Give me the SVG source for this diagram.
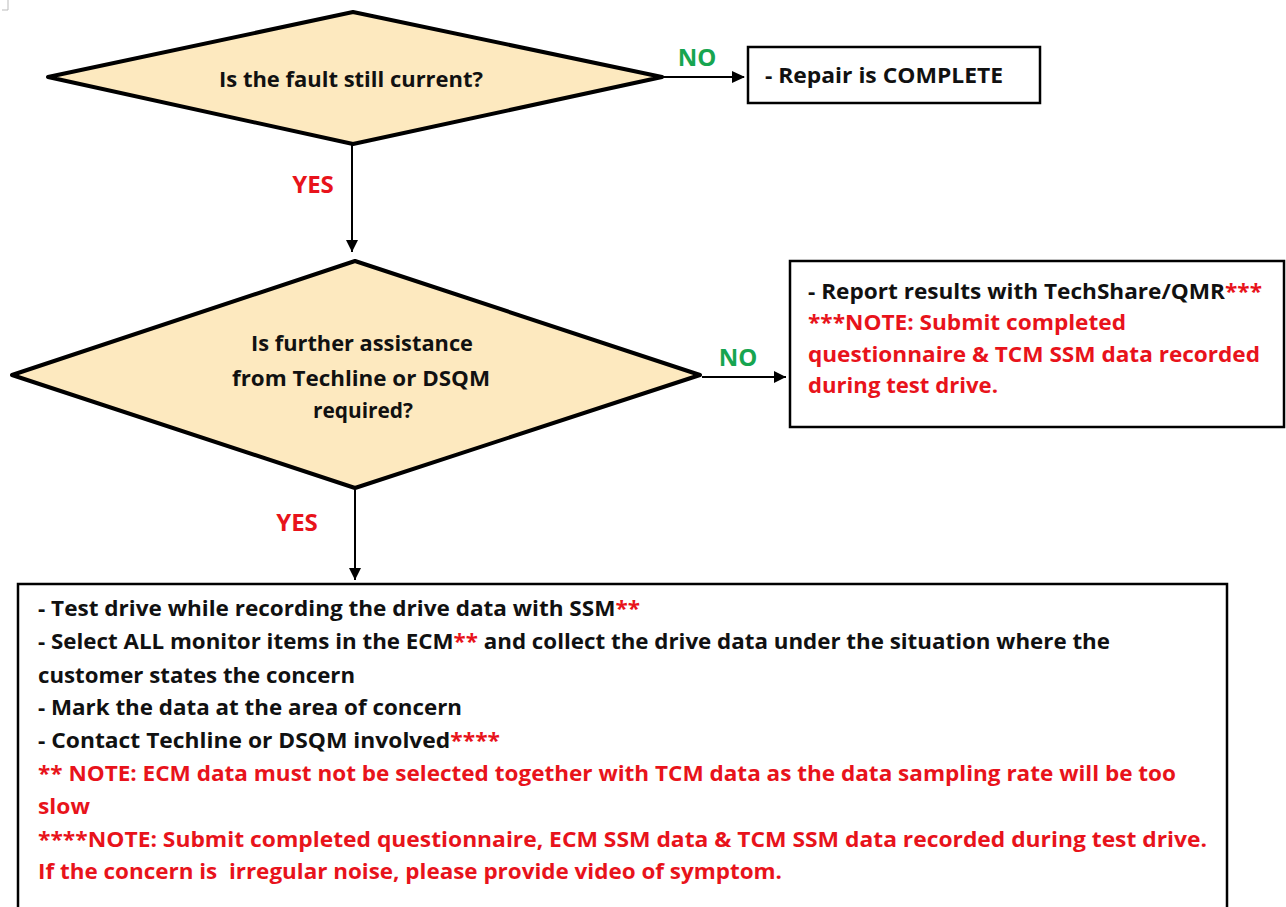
<svg xmlns="http://www.w3.org/2000/svg" width="1286" height="907" viewBox="0 0 1286 907">
<style>
.t{font-family:"Open Sans","Liberation Sans",sans-serif;font-weight:700;font-size:21px;fill:#111}
.r{fill:#e8131b}
.g{font-family:"Open Sans","Liberation Sans",sans-serif;font-weight:700;font-size:24px;fill:#17a550}
.y{font-family:"Open Sans","Liberation Sans",sans-serif;font-weight:700;font-size:24px;fill:#e8131b}
.d{fill:#fde9bf;stroke:#000;stroke-width:4;stroke-linejoin:round}
.b{fill:#fff;stroke:#000;stroke-width:2.5}
.c{stroke:#000;stroke-width:2;fill:none}
</style>
<rect width="1286" height="907" fill="#fff"/>
<path d="M2,10 L8,10 L8,0" stroke="#bbb" stroke-width="1" fill="none"/>
<g id="connectors">
<line class="c" x1="663" y1="77" x2="744" y2="77"/>
<path d="M732,71 L745,77 L732,83 Z" fill="#000"/>
<line class="c" x1="352" y1="145" x2="352" y2="252"/>
<path d="M346,240 L352,252 L358,240 Z" fill="#000"/>
<line class="c" x1="702" y1="377" x2="786" y2="377"/>
<path d="M774,371 L786,377 L774,383 Z" fill="#000"/>
<line class="c" x1="355" y1="490" x2="355" y2="580"/>
<path d="M349,568 L355,580 L361,568 Z" fill="#000"/>
<text class="g" x="697" y="66" text-anchor="middle">NO</text>
<text class="y" x="313" y="193" text-anchor="middle">YES</text>
<text class="g" x="738" y="366" text-anchor="middle">NO</text>
<text class="y" x="297" y="531" text-anchor="middle">YES</text>
</g>
<g id="n1">
<polygon class="d" points="48,77 353,12 662,77 353,144"/>
<text class="t" x="351" y="87" text-anchor="middle" textLength="264" lengthAdjust="spacingAndGlyphs">Is the fault still current?</text>
</g>
<g id="n2">
<rect class="b" x="748" y="47" width="292" height="56"/>
<text class="t" x="765" y="83" textLength="238" lengthAdjust="spacingAndGlyphs">- Repair is COMPLETE</text>
</g>
<g id="n3">
<polygon class="d" points="12,375 355,261 700,375 355,488"/>
<text class="t" x="362" y="351" text-anchor="middle" textLength="222" lengthAdjust="spacingAndGlyphs">Is further assistance</text>
<text class="t" x="361" y="386" text-anchor="middle" textLength="258" lengthAdjust="spacingAndGlyphs">from Techline or DSQM</text>
<text class="t" x="363" y="418" text-anchor="middle" textLength="100" lengthAdjust="spacingAndGlyphs">required?</text>
</g>
<g id="n4">
<rect class="b" x="790" y="261" width="494" height="166"/>
<text class="t" x="808" y="299" textLength="454" lengthAdjust="spacingAndGlyphs">- Report results with TechShare/QMR<tspan class="r">***</tspan></text>
<text class="t r" x="808" y="330" textLength="318" lengthAdjust="spacingAndGlyphs">***NOTE: Submit completed</text>
<text class="t r" x="808" y="362" textLength="452" lengthAdjust="spacingAndGlyphs">questionnaire &amp; TCM SSM data recorded</text>
<text class="t r" x="808" y="393" textLength="190" lengthAdjust="spacingAndGlyphs">during test drive.</text>
</g>
<g id="n5">
<rect class="b" x="18" y="584" width="1209" height="340"/>
<text class="t" x="38" y="616" textLength="602" lengthAdjust="spacingAndGlyphs">- Test drive while recording the drive data with SSM<tspan class="r">**</tspan></text>
<text class="t" x="38" y="649" textLength="1072" lengthAdjust="spacingAndGlyphs">- Select ALL monitor items in the ECM<tspan class="r">**</tspan> and collect the drive data under the situation where the</text>
<text class="t" x="38" y="683" textLength="317" lengthAdjust="spacingAndGlyphs">customer states the concern</text>
<text class="t" x="38" y="715" textLength="424" lengthAdjust="spacingAndGlyphs">- Mark the data at the area of concern</text>
<text class="t" x="38" y="748" textLength="462" lengthAdjust="spacingAndGlyphs">- Contact Techline or DSQM involved<tspan class="r">****</tspan></text>
<text class="t r" x="38" y="781" textLength="1138" lengthAdjust="spacingAndGlyphs">** NOTE: ECM data must not be selected together with TCM data as the data sampling rate will be too</text>
<text class="t r" x="38" y="814" textLength="52" lengthAdjust="spacingAndGlyphs">slow</text>
<text class="t r" x="38" y="847" textLength="1169" lengthAdjust="spacingAndGlyphs">****NOTE: Submit completed questionnaire, ECM SSM data &amp; TCM SSM data recorded during test drive.</text>
<text class="t r" x="38" y="879" textLength="744" lengthAdjust="spacingAndGlyphs" xml:space="preserve">If the concern is  irregular noise, please provide video of symptom.</text>
</g>
</svg>
